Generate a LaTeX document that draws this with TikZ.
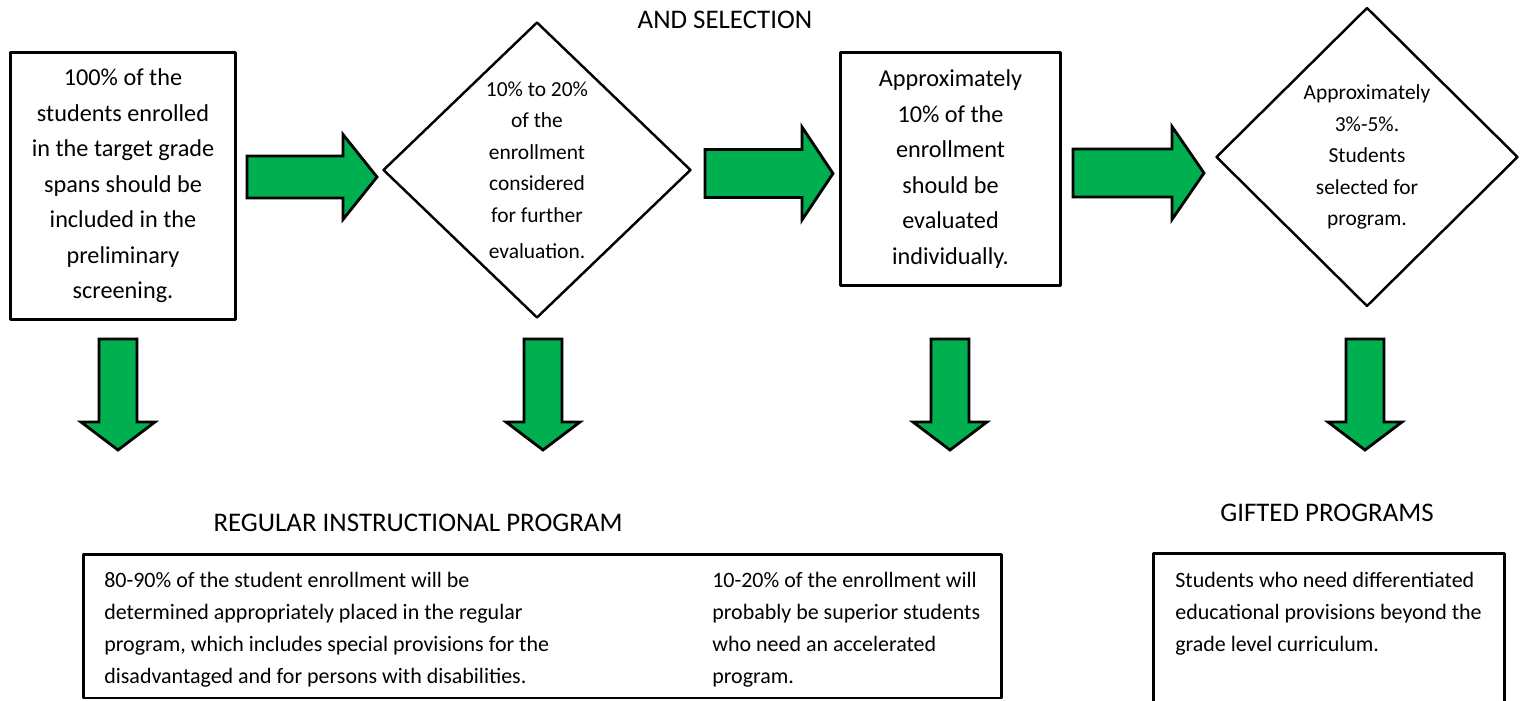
\documentclass[tikz,border=0pt]{standalone}
\usepackage{fontspec}
\setmainfont{Carlito}
\usetikzlibrary{shapes.geometric}
\definecolor{arrowgreen}{RGB}{0,176,80}
\tikzset{
  stagebox/.style={draw=black,line width=1.7pt,align=center,inner sep=0pt,font=\fontsize{13.8}{20.2}\selectfont},
  stagediamond/.style={diamond,draw=black,line width=1.4pt,align=center,inner sep=0pt,font=\fontsize{12.2}{17.9}\selectfont},
  progbox/.style={draw=black,line width=1.7pt,inner sep=0pt},
  progtext/.style={align=left,anchor=north west,inner sep=0pt,font=\fontsize{12.5}{18.1}\selectfont},
  heading/.style={font=\fontsize{15.3}{18}\selectfont},
  blockarrow/.style={fill=arrowgreen,draw=black,line width=1.6pt,line join=miter}
}
\begin{document}
\begin{tikzpicture}[line cap=round,line join=round,x=0.02cm,y=-0.02cm]
  \clip (0,0) rectangle (1525,700);
  % top row: screening steps
  \node[heading] (title) at (725,20) {AND SELECTION};
  \node[stagebox,minimum width=4.52cm,minimum height=5.36cm] (screen) at (123,186)
    {100\% of the\\students enrolled\\in the target grade\\spans should be\\included in the\\preliminary\\screening.};
  \node[stagediamond,minimum width=6.16cm,minimum height=5.92cm] (consider) at (537,170)
    {10\% to 20\%\\of the\\enrollment\\considered\\for further\\[2.5pt]evaluation.};
  \node[stagebox,minimum width=4.42cm,minimum height=4.68cm] (evaluate) at (950.5,169)
    {Approximately\\10\% of the\\enrollment\\should be\\evaluated\\individually.};
  \node[stagediamond,minimum width=6.04cm,minimum height=5.98cm] (select) at (1367,157)
    {Approximately\\3\%-5\%.\\Students\\selected for\\program.};
  \foreach \a/\b/\c/\m/\s/\h in {247/343/377/177/21/42.5,705/802/833/173.5/24/46.5,1073/1172/1204/173/24/46.5}
    \draw[blockarrow] (\a,\m-\s) -- (\b,\m-\s) -- (\b,\m-\h) -- (\c,\m) -- (\b,\m+\h) -- (\b,\m+\s) -- (\a,\m+\s) -- cycle;
  \foreach \x in {118,543,950,1365}
    \draw[blockarrow] (\x-19,339) -- (\x+19,339) -- (\x+19,422) -- (\x+37,422) -- (\x,450) -- (\x-37,422) -- (\x-19,422) -- cycle;
  % bottom row: programs
  \node[heading] (regular title) at (418,523) {REGULAR INSTRUCTIONAL PROGRAM};
  \node[progbox,minimum width=18.38cm,minimum height=2.88cm] (regular) at (542.5,626) {};
  \node[progtext] (placed) at (104,572)
    {80-90\% of the student enrollment will be\\determined appropriately placed in the regular\\program, which includes special provisions for the\\disadvantaged and for persons with disabilities.};
  \node[progtext] (accelerated) at (712,572)
    {10-20\% of the enrollment will\\probably be superior students\\who need an accelerated\\program.};
  \node[heading] (gifted title) at (1327,513) {GIFTED PROGRAMS};
  \node[progbox,minimum width=7.04cm,minimum height=3.18cm] (gifted) at (1329,632.5) {};
  \node[progtext] (beyond) at (1175,572)
    {Students who need differentiated\\educational provisions beyond the\\grade level curriculum.};
\end{tikzpicture}
\end{document}
